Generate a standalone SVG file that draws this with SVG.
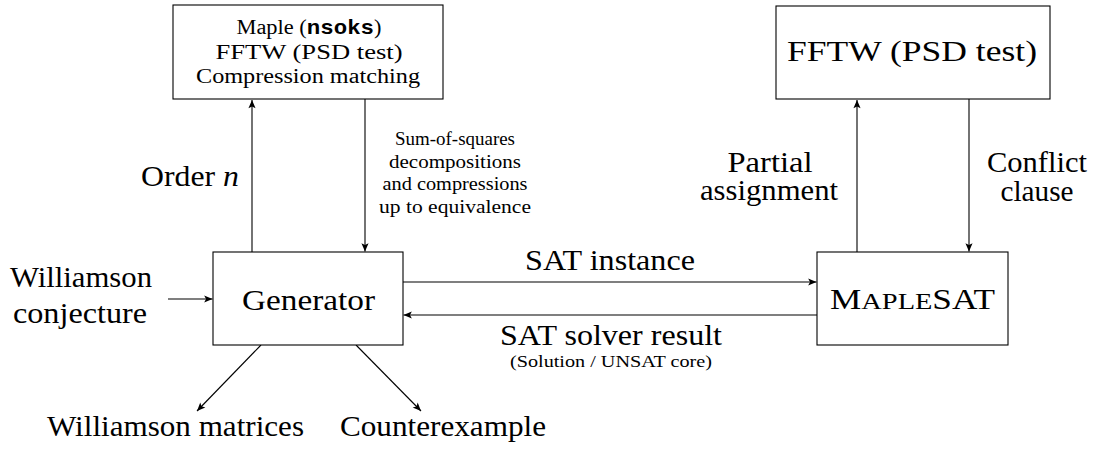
<svg xmlns="http://www.w3.org/2000/svg" width="1093" height="449" viewBox="0 0 1093 449">
<style>
  .box { fill: #fff; stroke: #000; stroke-width: 1.1; }
  .edge { stroke: #000; stroke-width: 1.1; fill: none; marker-end: url(#arr); }
  text { fill: #000; text-anchor: middle; }
  .big { font-size: 28.5px; }
  .mid { font-size: 20.5px; }
  .sm { font-size: 19px; }
  .xs { font-size: 17px; }
</style>
<defs>
  <marker id="arr" markerUnits="userSpaceOnUse" markerWidth="10" markerHeight="10" viewBox="-8 -4 9 8" refX="0" refY="0" orient="auto">
    <path d="M0,0 L-7.5,-3.2 L-5.8,0 L-7.5,3.2 Z" fill="#000"/>
  </marker>
</defs>

<g id="connectors">
  <line class="edge" x1="252" y1="252" x2="252" y2="100"/>
  <line class="edge" x1="365" y1="99" x2="365" y2="251.5"/>
  <line class="edge" x1="403" y1="282" x2="816.5" y2="282"/>
  <line class="edge" x1="817" y1="315" x2="403.5" y2="315"/>
  <line class="edge" x1="857" y1="252" x2="857" y2="100"/>
  <line class="edge" x1="969" y1="99" x2="969" y2="251.5"/>
  <line class="edge" x1="168" y1="299" x2="212.5" y2="299"/>
  <line class="edge" x1="261" y1="345" x2="197" y2="411"/>
  <line class="edge" x1="356" y1="345" x2="421" y2="411"/>
</g>

<g font-family="'Liberation Serif', 'DejaVu Serif', 'Noto Serif', Tinos, FreeSerif, 'Nimbus Roman', 'Times New Roman', Times, serif">
<g id="tools-left">
  <rect class="box" x="173" y="5" width="270" height="94"/>
  <text class="mid" x="309" y="34" textLength="145" lengthAdjust="spacingAndGlyphs">Maple (<tspan font-family="'Liberation Mono', 'DejaVu Sans Mono', 'Courier New', monospace" font-weight="bold">nsoks</tspan>)</text>
  <text class="mid" x="309" y="59" textLength="187" lengthAdjust="spacingAndGlyphs">FFTW (PSD test)</text>
  <text class="mid" x="308" y="83" textLength="224" lengthAdjust="spacingAndGlyphs">Compression matching</text>
</g>

<g id="tools-right">
  <rect class="box" x="776" y="6" width="274" height="93"/>
  <text x="912" y="61" font-size="30" textLength="250" lengthAdjust="spacingAndGlyphs">FFTW (PSD test)</text>
</g>

<g id="generator">
  <rect class="box" x="213" y="252" width="190" height="93"/>
  <text class="big" x="308.5" y="310" textLength="133" lengthAdjust="spacingAndGlyphs">Generator</text>
</g>

<g id="maplesat">
  <rect class="box" x="817" y="252" width="191" height="93"/>
  <text class="big" x="912.5" y="309" textLength="165" lengthAdjust="spacingAndGlyphs">M<tspan font-size="23">APLE</tspan>SAT</text>
</g>

<g id="labels">
  <text class="big" x="239" y="186" style="text-anchor:end" textLength="98" lengthAdjust="spacingAndGlyphs">Order <tspan font-style="italic">n</tspan></text>
  <text class="sm" x="455" y="145" textLength="120" lengthAdjust="spacingAndGlyphs">Sum-of-squares</text>
  <text class="sm" x="455" y="168" textLength="132" lengthAdjust="spacingAndGlyphs">decompositions</text>
  <text class="sm" x="455" y="190" textLength="145" lengthAdjust="spacingAndGlyphs">and compressions</text>
  <text class="sm" x="455" y="213" textLength="152" lengthAdjust="spacingAndGlyphs">up to equivalence</text>
  <text class="big" x="770" y="172" textLength="85" lengthAdjust="spacingAndGlyphs">Partial</text>
  <text class="big" x="769" y="200" textLength="138" lengthAdjust="spacingAndGlyphs">assignment</text>
  <text class="big" x="1037" y="172" textLength="100" lengthAdjust="spacingAndGlyphs">Conflict</text>
  <text class="big" x="1037" y="201" textLength="73" lengthAdjust="spacingAndGlyphs">clause</text>
  <text class="big" x="610" y="270" textLength="170" lengthAdjust="spacingAndGlyphs">SAT instance</text>
  <text class="big" x="611" y="345" textLength="222" lengthAdjust="spacingAndGlyphs">SAT solver result</text>
  <text class="xs" x="611" y="367" textLength="202" lengthAdjust="spacingAndGlyphs">(Solution / UNSAT core)</text>
  <text class="big" x="81" y="287" textLength="142" lengthAdjust="spacingAndGlyphs">Williamson</text>
  <text class="big" x="80" y="323" textLength="134" lengthAdjust="spacingAndGlyphs">conjecture</text>
  <text class="big" x="175.5" y="436" textLength="257" lengthAdjust="spacingAndGlyphs">Williamson matrices</text>
  <text class="big" x="443" y="436" textLength="206" lengthAdjust="spacingAndGlyphs">Counterexample</text>
</g>
</g>
</svg>
